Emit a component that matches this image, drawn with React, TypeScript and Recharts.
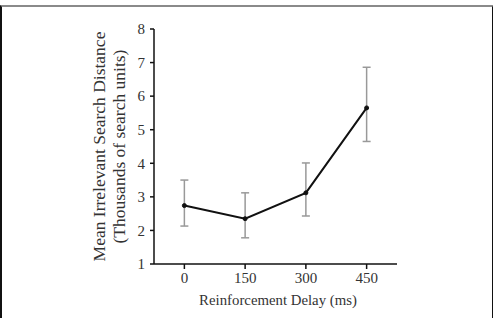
import { LineChart, Line, XAxis, YAxis, ErrorBar } from "recharts";

const delays = [0, 150, 300, 450];
const means = [2.74, 2.35, 3.12, 5.65];
const lower = [2.13, 1.78, 2.43, 4.65];
const upper = [3.5, 3.12, 4.01, 6.86];
const yTicks = [1, 2, 3, 4, 5, 6, 7, 8];

const FONT = '"Liberation Serif", "Times New Roman", serif';
const TEXT = "#333";

const data = delays.map((d, i) => ({
  delay: d,
  mean: means[i],
  err: [means[i] - lower[i], upper[i] - means[i]],
}));

function YLabel(props: any) {
  const vb = props.viewBox || {};
  const cy = vb.y + vb.height / 2;
  const x1 = 99;
  const x2 = 119;
  return (
    <g fontFamily={FONT} fill={TEXT}>
      <text x={x1} y={cy} fontSize={17.5} textAnchor="middle" dominantBaseline="central" transform={`rotate(-90, ${x1}, ${cy})`}>
        Mean Irrelevant Search Distance
      </text>
      <text x={x2} y={cy} fontSize={17.5} textAnchor="middle" dominantBaseline="central" transform={`rotate(-90, ${x2}, ${cy})`}>
        (Thousands of search units)
      </text>
    </g>
  );
}

function XLabel(props: any) {
  const vb = props.viewBox || {};
  const cx = vb.x + vb.width / 2 + 0;
  return (
    <text x={278} y={300} fontSize={14.8} fontFamily={FONT} fill={TEXT} textAnchor="middle" dominantBaseline="central">
      Reinforcement Delay (ms)
    </text>
  );
}

export default function App() {
  return (
    <div
      style={{
        position: "absolute",
        left: 0,
        top: 0,
        width: 493,
        height: 318,
        background: "#fff",
        overflow: "hidden",
      }}
    >
      <div
        style={{
          position: "absolute",
          left: 0,
          top: 5,
          width: 490,
          height: 320,
          borderTop: "2px solid #8a8a8a",
          borderLeft: "2px solid #111",
          borderRight: "2px solid #111",
        }}
      />
      <div style={{ position: "absolute", left: 0, top: 0 }}>
        <LineChart width={493} height={318} data={data} margin={{ top: 29, right: 96, bottom: 0, left: 0 }}>
          <XAxis
            dataKey="delay"
            type="number"
            domain={[-75, 525]}
            ticks={delays}
            height={54}
            stroke="#111"
            strokeWidth={1.5}
            tickSize={5}
            tickMargin={3}
            tick={{ fill: TEXT, fontSize: 15, fontFamily: FONT }}
            label={<XLabel />}
          />
          <YAxis
            type="number"
            domain={[1, 8]}
            ticks={yTicks}
            width={154}
            stroke="#111"
            strokeWidth={1.5}
            tickSize={4}
            tickMargin={5}
            tick={{ fill: TEXT, fontSize: 15, fontFamily: FONT }}
            label={<YLabel />}
          />
          <Line
            dataKey="mean"
            stroke="#111"
            strokeWidth={2}
            dot={{ r: 2, fill: "#111", stroke: "#111", strokeWidth: 1 }}
            isAnimationActive={false}
          >
            <ErrorBar dataKey="err" direction="y" width={4} stroke="#999" strokeWidth={1.5} />
          </Line>
        </LineChart>
      </div>
    </div>
  );
}
